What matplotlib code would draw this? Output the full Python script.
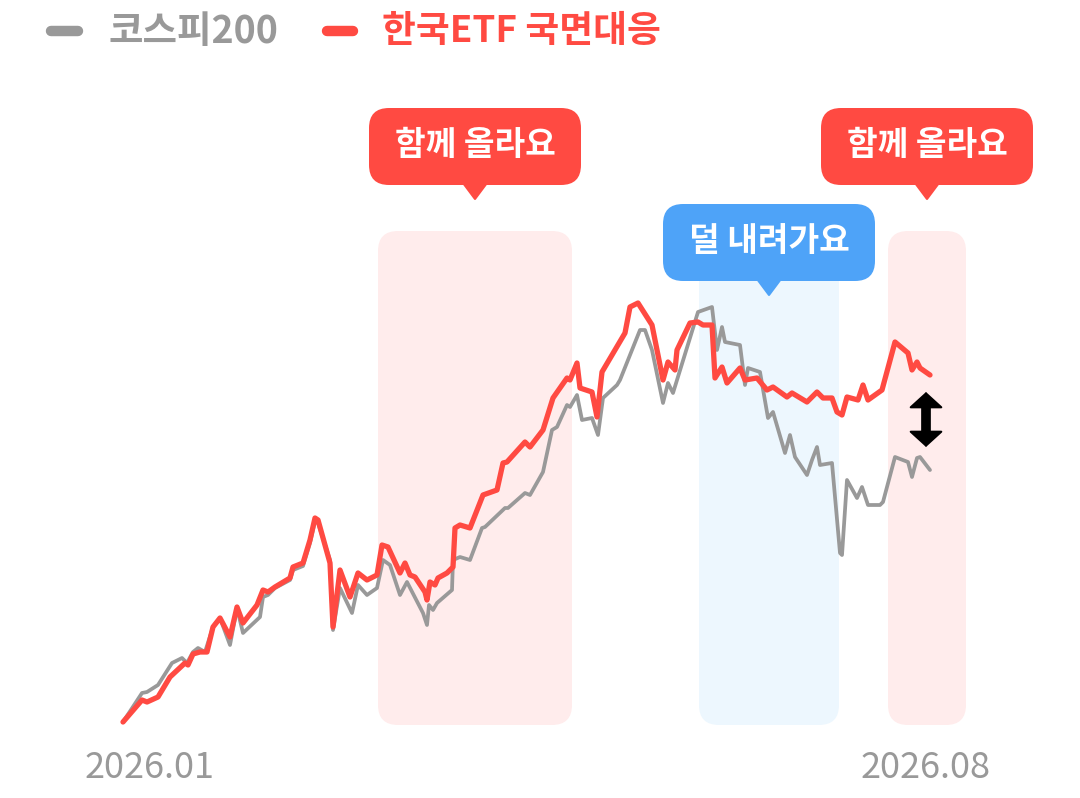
import matplotlib
matplotlib.use("Agg")
import matplotlib.pyplot as plt
from matplotlib.patches import FancyBboxPatch, Polygon, FancyArrowPatch
import numpy as np

plt.rcParams['font.family'] = ['Noto Sans CJK KR', 'DejaVu Sans']

# trading day index and normalized index level
kospi_days = [0, 4.75, 6, 8.75, 12.25, 14.75, 16, 17.5, 18.75, 20.5, 22.5, 24.25, 26.75, 28.5, 30,
              34.25, 35, 36.25, 38, 41.75, 42.5, 45, 46.75, 48, 48.75, 51.75, 52.5, 54.25, 57.25,
              58.75, 61, 63.5, 65, 66.75, 69.25, 71, 75, 76, 76.5, 77.5, 78.5, 82.25, 82.5, 84.25,
              86.75, 89.75, 90.5, 95.5, 96.25, 100.5, 101.75, 105, 107.25, 108.5, 111, 111.75,
              113.5, 114.75, 117.25, 118.75, 120, 123.5, 124.25, 129.25, 130.5, 132.25, 135,
              136.25, 137.5, 143.75, 147.25, 148.5, 149.75, 150.5, 154.25, 155.5, 156.25, 159.25,
              161.25, 162.5, 165.5, 166.75, 168, 171, 172.25, 173.5, 174.25, 177.25, 179.25,
              179.75, 181, 183.5, 184.75, 186.25, 189.25, 190, 193, 196.25, 197.25, 198.5, 199.25,
              201.75]
kospi = [300, 314.5, 315, 318.5, 329.5, 332, 329.5, 335, 337, 335, 347.5, 352, 338.5, 357, 344.5,
         352.5, 362.5, 363.5, 367, 371, 376, 378, 389.5, 400.5, 399.5, 381, 346, 367, 354.5,
         368.5, 363.5, 367, 381, 378.5, 363.5, 370, 354.5, 348.5, 358.5, 356, 359.5, 366, 381, 382.5,
         381, 397, 397.5, 407, 407, 414.5, 413.5, 425, 446, 447.5, 458.5, 457.5,
         463.5, 451, 452, 443.5, 462, 468.5, 471, 496, 496, 486, 459.5,
         469.5, 464.5, 505, 507.5, 486, 497.5, 490, 488.5, 468.5, 477, 475,
         452, 455, 434.5, 443.5, 432.5, 423.5, 431, 437.5, 428.5, 429.5, 384.5,
         383.5, 421, 412, 417.5, 408.5, 408.5, 410, 432.5, 430, 422.5, 432, 432.5,
         426]

etf_days = [0, 4.75, 6, 8.75, 11.75, 15.5, 16.25, 17.5, 19.25, 21, 22.5, 24.25, 26.75, 28.5, 30,
            33.5, 35, 36.25, 38, 41.75, 42.5, 45, 46.75, 48, 48.75, 51.75, 52.5, 54.25, 56.75,
            58.75, 61, 63.5, 64.75, 66.25, 69.25, 70.5, 71.75, 73, 75.5, 76, 76.75, 78, 78.75,
            81, 82.5, 83, 84.25, 86.75, 90, 93.5, 95, 96, 100.5, 101.75, 105, 107.5, 111, 111.75,
            113.5, 114.25, 117.25, 118.5, 119.75, 125.5, 126.75, 128.75, 132.25, 135, 136.25,
            138, 138.5, 141.75, 143.75, 145, 147.25, 148, 149.75, 151, 154.25, 155.5, 158.5,
            161, 162.5, 166, 167.25, 171, 173.5, 175, 177.25, 178.5, 179.75, 181, 183.75, 185,
            186.25, 189.75, 193, 196.25, 197.25, 198.5, 199.25, 201.75]
etf = [300, 311, 310, 312.5, 322.5, 329.5, 328.5, 334, 335, 335, 347.5, 352, 342.5, 357.5, 349.5,
       358.5, 366, 365, 367.5, 372, 377.5, 379.5, 391, 402, 401, 379.5, 347.5, 376, 362.5,
       374.5, 371, 373.5, 388.5, 387.5, 374.5, 379.5, 373.5, 372.5, 365, 361, 370, 368.5, 372,
       374.5, 377.5, 397, 398.5, 397, 413.5, 416, 429.5, 430, 440, 437.5, 446, 462, 472, 471,
       479.5, 467, 465, 452.5, 475, 494.5, 507.5, 509.5, 498.5, 471, 480,
       476, 486, 499.5, 500, 498.5, 498.5, 472, 477.5, 469.5, 477, 471, 472,
       466, 467.5, 462.5, 464.5, 460, 465, 462, 462, 455, 453.5, 462.5, 461, 468.5,
       461, 466, 490, 484.5, 476, 480, 477, 473.5]

# highlighted periods (start day, end day, label, kind)
periods = [(63.75, 112.25, '함께 올라요', 'up'),
           (144.0, 179.0, '덜 내려가요', 'down'),
           (191.25, 210.75, '함께 올라요', 'up')]

tick_days = [6.75, 200.75]
tick_labels = ['2026.01', '2026.08']

RED = '#FF4A42'
GREY = '#999999'
BLUE = '#4EA3F8'
band_col = {'up': '#FFECEC', 'down': '#EDF7FE'}
bubble_col = {'up': RED, 'down': BLUE}
bubble_y = {'up': (568.5, 607.0), 'down': (520.5, 559.0)}

fig = plt.figure(figsize=(10.8, 7.98), dpi=100)
ax = fig.add_axes([0, 0, 1, 1])
ax.set_xlim(-30.75, 239.25)
ax.set_ylim(262, 661)
ax.axis('off')

# x units per px = 0.25, y units per px = 0.5 -> aspect 2
for start, end, label, kind in periods:
    band = FancyBboxPatch((start, 298.5), end - start, 247,
                          boxstyle='round,pad=0,rounding_size=5', mutation_aspect=2,
                          fc=band_col[kind], ec='none', zorder=0)
    ax.add_patch(band)
    cx = (start + end) / 2
    y0, y1 = bubble_y[kind]
    bub = FancyBboxPatch((cx - 26.5, y0), 53, y1 - y0,
                         boxstyle='round,pad=0,rounding_size=5', mutation_aspect=2,
                         fc=bubble_col[kind], ec='none', zorder=5)
    ax.add_patch(bub)
    tail = Polygon([(cx - 2.8, y0 + 0.5), (cx + 2.8, y0 + 0.5), (cx, y0 - 7)],
                   closed=True, fc=bubble_col[kind], ec=bubble_col[kind], lw=1.5,
                   joinstyle='round', zorder=5)
    ax.add_patch(tail)
    ax.text(cx, (y0 + y1) / 2 + 0.5, label, color='white', fontsize=24, fontweight='bold',
            ha='center', va='center', zorder=6)

ax.plot(kospi_days, kospi, color=GREY, lw=2.7, solid_joinstyle='round',
        solid_capstyle='round', zorder=2)
ax.plot(etf_days, etf, color=RED, lw=3.8, solid_joinstyle='round',
        solid_capstyle='round', zorder=3)

# gap arrow between the two series at the end
gx = 200.75
ax.plot([gx, gx], [443, 459.5], color='black', lw=7, solid_capstyle='butt', zorder=4)
arr = FancyArrowPatch((gx, 437.5), (gx, 465), arrowstyle='<|-|>,head_length=0.5,head_width=0.55',
                      mutation_scale=20, lw=1.5, color='black', joinstyle='round',
                      shrinkA=0, shrinkB=0, zorder=4)
ax.add_patch(arr)

for d, t in zip(tick_days, tick_labels):
    ax.text(d, 277, t, color=GREY, fontsize=26, ha='center', va='center')

# legend
ax.plot([51 / 1080, 78 / 1080], [0.961, 0.961], transform=ax.transAxes, color=GREY,
        lw=7.5, solid_capstyle='round', clip_on=False)
ax.text(108 / 1080, 0.961, '코스피200', transform=ax.transAxes, color=GREY, fontsize=27,
        fontweight='bold', ha='left', va='center')
ax.plot([327 / 1080, 353 / 1080], [0.961, 0.961], transform=ax.transAxes, color=RED,
        lw=7.5, solid_capstyle='round', clip_on=False)
ax.text(382 / 1080, 0.961, '한국ETF 국면대응', transform=ax.transAxes, color=RED, fontsize=26.5,
        fontweight='bold', ha='left', va='center')

fig.savefig('out.png', dpi=100)
